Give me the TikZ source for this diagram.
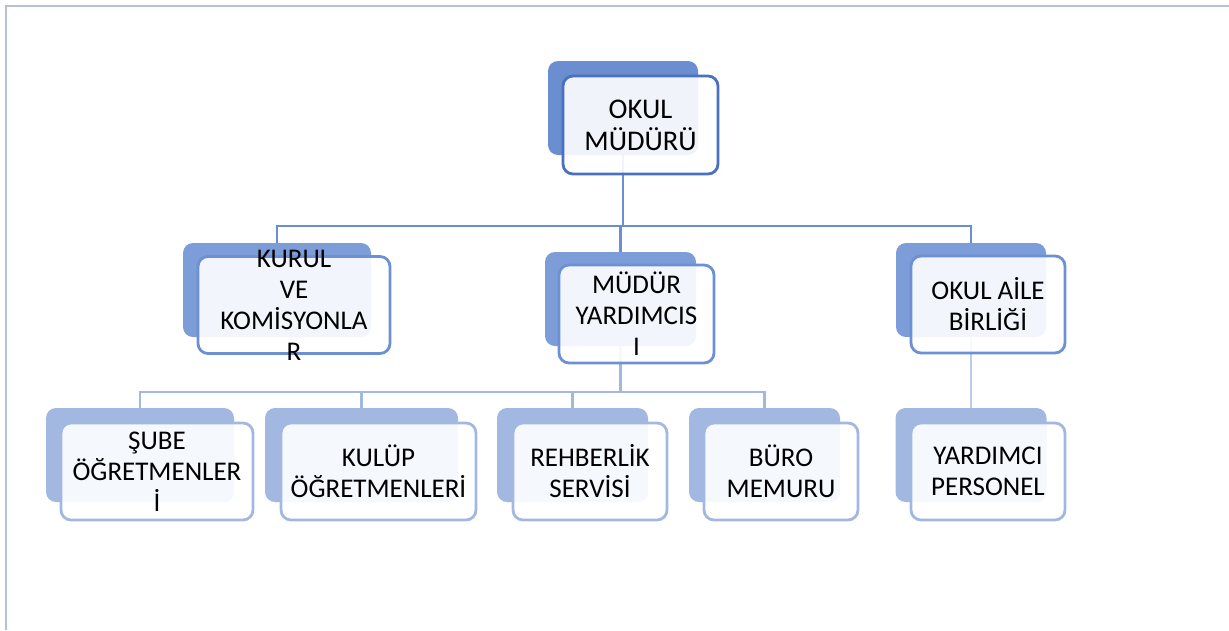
\documentclass[tikz,border=0pt]{standalone}
\usepackage{fontspec}
\setmainfont{Carlito}
\usetikzlibrary{positioning}

\definecolor{topback}{HTML}{6A8ED0}
\definecolor{midback}{HTML}{7C9DD7}
\definecolor{lowback}{HTML}{A3B8E1}
\definecolor{topline}{HTML}{4A70C0}
\definecolor{midline}{HTML}{6D90D4}
\definecolor{lowline}{HTML}{A3B8E1}
\definecolor{paleline}{HTML}{BCCBEA}
\definecolor{framegray}{HTML}{B4C0D4}

\tikzset{
  backbox/.style={rectangle, rounded corners=10pt, minimum height=94pt, inner sep=0pt},
  frontbox/.style={rectangle, rounded corners=10pt, line width=2.8pt, fill=white,
    fill opacity=0.9, minimum height=97pt, inner sep=0pt},
  boxtext/.style={align=center, inner sep=0pt, font=\fontsize{27}{31}\selectfont},
  linktop/.style={draw=topback, line width=2.8pt},
  linkmid/.style={draw=lowback, line width=2.6pt},
  linkpale/.style={draw=paleline, line width=2.6pt},
}

\begin{document}
\begin{tikzpicture}[x=1pt,y=-1pt]
  \useasboundingbox (0,0) rectangle (1229,630);
  \draw[framegray, line width=2.4pt] (6,630) -- (6,6) -- (1229,6);

  % back boxes
  \node[backbox, fill=topback, minimum width=150pt] (mb) at (623,108) {};
  \node[backbox, fill=midback, minimum width=188pt] (kb) at (277,290) {};
  \node[backbox, fill=midback, minimum width=151pt] (yb) at (620.5,299) {};
  \node[backbox, fill=midback, minimum width=150pt] (ab) at (971,290) {};
  \node[backbox, fill=lowback, minimum width=188pt] (sb) at (140,455) {};
  \node[backbox, fill=lowback, minimum width=193pt] (ub) at (361.5,455) {};
  \node[backbox, fill=lowback, minimum width=151pt] (rb) at (572.5,455) {};
  \node[backbox, fill=lowback, minimum width=151pt] (bb) at (764.5,455) {};
  \node[backbox, fill=lowback, minimum width=151pt] (pb) at (971,455) {};

  % connectors
  \coordinate (bus1) at (0,226);
  \coordinate (bus2) at (0,392);
  \draw[linktop] (mb.south) -- (mb.south |- bus1) -| (kb.north);
  \draw[linktop] (mb.south |- bus1) -| (yb.north);
  \draw[linktop] (mb.south |- bus1) -| (ab.north);
  \draw[linkmid] (yb.south) -- (yb.south |- bus2) -| (sb.north);
  \draw[linkmid] (yb.south |- bus2) -| (ub.north);
  \draw[linkmid] (yb.south |- bus2) -| (rb.north);
  \draw[linkmid] (yb.south |- bus2) -| (bb.north);
  \draw[linkpale] (ab.south) -- (pb.north);

  % front boxes
  \node[frontbox, draw=topline, minimum width=155pt, minimum height=98pt] (mf) at (640.5,125) {};
  \node[frontbox, draw=midline, minimum width=192pt] (kf) at (294,305) {};
  \node[frontbox, draw=midline, minimum width=155pt, minimum height=98pt] (yf) at (636.5,314) {};
  \node[frontbox, draw=midline, minimum width=154pt] (af) at (988,304.5) {};
  \node[frontbox, draw=lowline, minimum width=192pt] (sf) at (157,471.5) {};
  \node[frontbox, draw=lowline, minimum width=195pt] (uf) at (378.5,471.5) {};
  \node[frontbox, draw=lowline, minimum width=154pt] (rf) at (590,471.5) {};
  \node[frontbox, draw=lowline, minimum width=154pt] (bf) at (781,471.5) {};
  \node[frontbox, draw=lowline, minimum width=154pt] (pf) at (988,471.5) {};

  % texts
  \node[boxtext, font=\fontsize{28.5}{32}\selectfont] (mt) at (mf) {OKUL\\MÜDÜRÜ};
  \node[boxtext] (kt) at (kf) {KURUL\\VE\\KOMİSYONLA\\R};
  \node[boxtext] (yt) at (yf) {MÜDÜR\\YARDIMCIS\\I};
  \node[boxtext] (at) at (af) {OKUL AİLE\\BİRLİĞİ};
  \node[boxtext] (st) at (sf) {ŞUBE\\ÖĞRETMENLER\\İ};
  \node[boxtext] (ut) at (uf) {KULÜP\\ÖĞRETMENLERİ};
  \node[boxtext] (rt) at (rf) {REHBERLİK\\SERVİSİ};
  \node[boxtext] (bt) at (bf) {BÜRO\\MEMURU};
  \node[boxtext] (pt) at (pf) {YARDIMCI\\PERSONEL};
\end{tikzpicture}
\end{document}
